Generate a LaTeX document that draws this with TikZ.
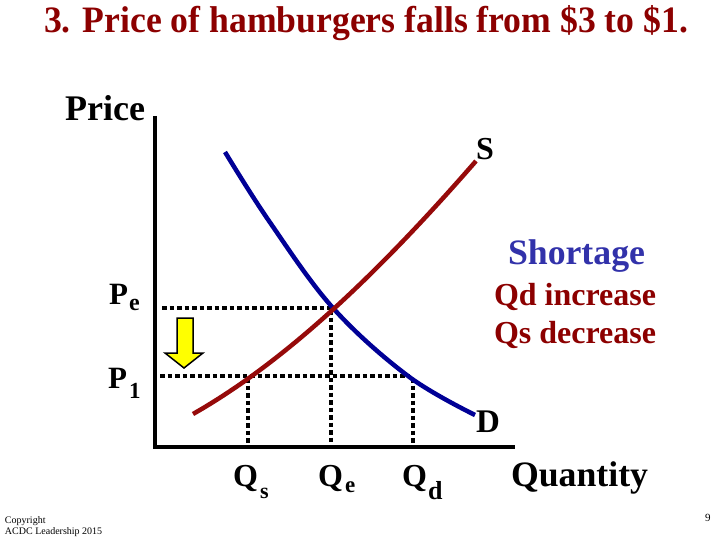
\documentclass[tikz,border=0pt]{standalone}
\usepackage{fontspec}
\setmainfont{Liberation Serif}
\usepackage{graphicx}
\definecolor{dred}{RGB}{140,0,0}
\definecolor{sred}{RGB}{150,10,10}
\definecolor{dblue}{RGB}{0,0,150}
\definecolor{sblue}{RGB}{50,50,170}
\definecolor{ayellow}{RGB}{255,255,0}
\newcommand{\fitw}[2]{\resizebox{#1pt}{!}{\bfseries #2}}
\newcommand{\fs}[1]{\fontsize{#1}{#1}\selectfont\bfseries}
\tikzset{
  lbl/.style={anchor=base west, inner sep=0pt, outer sep=0pt},
  axisline/.style={line width=4pt, black},
  guide/.style={line width=4pt, black, dash pattern=on 4.5pt off 3pt},
  supplycurve/.style={line width=4.5pt, sred},
  demandcurve/.style={line width=4.5pt, dblue},
}
\begin{document}
\begin{tikzpicture}[x=1pt,y=-1pt]
\useasboundingbox (0,0) rectangle (720,540);
% title
\node[lbl, text=dred] (title) at (44,33) {\resizebox{644pt}{27pt}{\bfseries 3. Price of hamburgers falls from \$3 to \$1.}};
% axes
\coordinate (ytop) at (155,116);
\coordinate (origin) at (155,447);
\coordinate (xend) at (515,447);
\draw[axisline] (ytop) -- (origin) -- (xend);
% key points
\coordinate (E) at (333,308);
\coordinate (Pe) at (162,308);
\coordinate (P1) at (160,376);
\coordinate (D1) at (410,376);
% guides
\draw[guide] (Pe) -- (E);
\draw[guide] (P1) -- (D1);
\draw[guide] (248,378) -- (248,447);
\draw[guide] (331,310) -- (331,447);
\draw[guide] (413,378) -- (413,447);
% curves
\draw[demandcurve] plot[smooth, tension=0.6] coordinates {(225,152) (269,221) (333,308) (408,376) (475,415)};
\draw[supplycurve] (193,414) .. controls (288,360) and (381,270) .. (476,161);
% yellow arrow
\draw[line width=1.5pt, black, fill=ayellow, line join=miter] (177,318) -- (193,318) -- (193,353) -- (203,353) -- (184,368) -- (165,353) -- (177,353) -- cycle;
% labels
\node[lbl] (price) at (65,121) {\fitw{80}{Price}};
\node[lbl] (slab) at (476,160) {\fs{32}S};
\node[lbl] (dlab) at (476,432) {\fs{33}D};
\node[lbl, text=sblue] (short) at (508,264) {\fitw{137}{Shortage}};
\node[lbl, text=dred] (qdinc) at (494,305) {\fitw{162}{Qd increase}};
\node[lbl, text=dred] (qsdec) at (494,343) {\fitw{162}{Qs decrease}};
\node[lbl] (peP) at (109,304) {\fs{31}P};
\node[lbl] (peE) at (129,310) {\fs{24}e};
\node[lbl] (p1P) at (108,388) {\fs{31}P};
\node[lbl] (p1N) at (129,398) {\fs{23}1};
\node[lbl] (qsQ) at (233,486) {\fs{32}Q};
\node[lbl] (qsS) at (260,498) {\fs{22}s};
\node[lbl] (qeQ) at (318,486) {\fs{32}Q};
\node[lbl] (qeE) at (345,492) {\fs{23}e};
\node[lbl] (qdQ) at (402,486) {\fs{32}Q};
\node[lbl] (qdD) at (428,499) {\fs{26}d};
\node[lbl] (quant) at (511,486) {\fitw{137}{Quantity}};
\node[lbl, font=\fontsize{10}{12}\selectfont] (copy1) at (5,523) {Copyright};
\node[lbl, font=\fontsize{10}{12}\selectfont] (copy2) at (5,534) {ACDC Leadership 2015};
\node[lbl, font=\fontsize{11}{13}\selectfont] (pnum) at (705,521) {9};
\end{tikzpicture}
\end{document}
